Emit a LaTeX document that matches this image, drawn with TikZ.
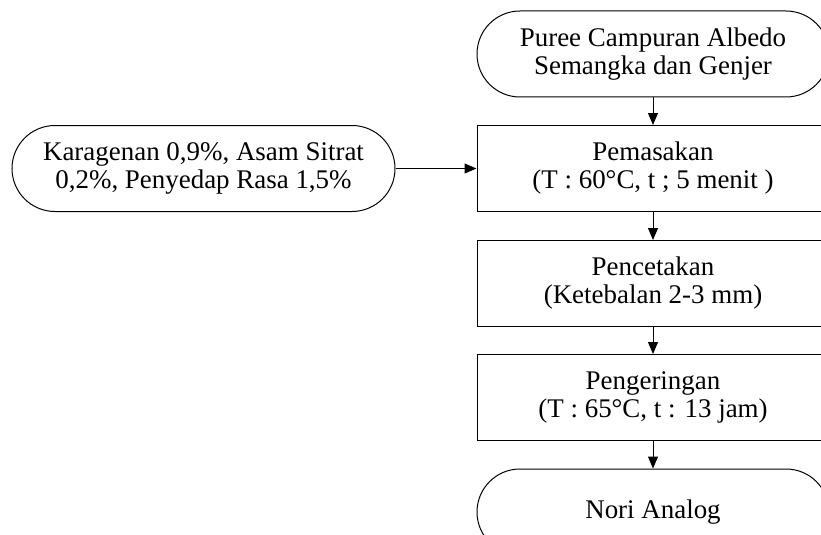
\documentclass[tikz,border=0pt]{standalone}
\usepackage{fontspec}
\setmainfont{Liberation Serif}
\usetikzlibrary{arrows.meta}

\tikzset{
  prosesbox/.style={draw, line width=0.75pt, rectangle, minimum width=264pt, minimum height=64.5pt, inner sep=0pt, align=center, font=\fontsize{20.2}{21}\selectfont},
  terminal/.style={prosesbox, rounded corners=32.25pt},
  alir/.style={line width=0.75pt, -{Triangle[length=9pt,width=7.5pt]}}
}

\begin{document}
\begin{tikzpicture}[x=0.75pt,y=0.75pt,yscale=-1,xscale=1]
\useasboundingbox (0,0) rectangle (821,535);

%Shape: Terminal
\node [terminal] (puree) at (653,54) {Puree Campuran Albedo\\Semangka dan Genjer};
%Shape: Rectangle
\node [prosesbox] (masak) at (653,168.5) {Pemasakan\\(T : 60°C, t ; 5 menit )};
%Shape: Rectangle
\node [prosesbox] (cetak) at (653,283.5) {Pencetakan\\(Ketebalan 2-3 mm)};
%Shape: Rectangle
\node [prosesbox] (kering) at (653,397.5) {Pengeringan\\(T : 65°C, t : 13 jam)};
%Shape: Terminal
\node [terminal] (nori) at (653,512) {Nori Analog};
%Shape: Terminal
\node [terminal, minimum width=287.25pt] (bahan) at (203.5,168.5) {Karagenan 0,9\%, Asam Sitrat\\0,2\%, Penyedap Rasa 1,5\%};

%Straight Lines
\draw [alir] (puree) -- (masak);
\draw [alir] (masak) -- (cetak);
\draw [alir] (cetak) -- (kering);
\draw [alir] (kering) -- (nori);
\draw [alir] (bahan) -- (masak);

\end{tikzpicture}
\end{document}
